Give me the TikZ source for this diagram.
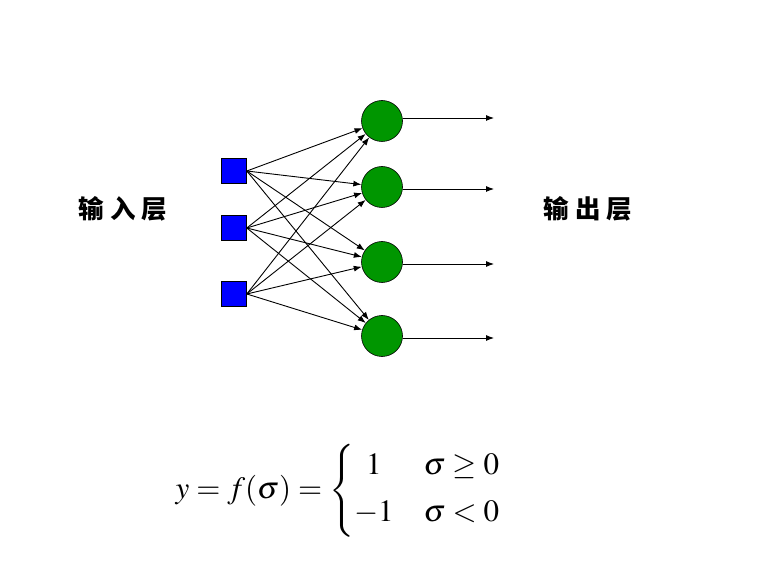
\documentclass[tikz,border=0pt]{standalone}
\usepackage{amsmath}
\usepackage{mathptmx}
\usepackage{fontspec}
\newfontfamily\cjk{Noto Sans CJK SC Black}
\usetikzlibrary{arrows.meta,positioning}
\definecolor{cellgreen}{RGB}{0,150,0}

\begin{document}
\begin{tikzpicture}[
  x=1pt,y=-1pt,
  innode/.style={draw,fill=blue,minimum size=25pt,inner sep=0pt,line width=.6pt},
  outnode/.style={circle,draw,fill=cellgreen,minimum size=41pt,inner sep=0pt,line width=.6pt},
  layer/.style={font=\cjk\fontsize{25.5}{30}\selectfont},
  link/.style={line width=.9pt,-{Latex[length=8pt,width=6pt]}}
]
  \useasboundingbox (0,0) rectangle (766,561);

  % input layer
  \node[innode] (i1) at (234,171) {};
  \node[innode] (i2) at (234,228) {};
  \node[innode] (i3) at (234,294) {};

  % output layer
  \node[outnode] (o1) at (382,121) {};
  \node[outnode] (o2) at (382,187) {};
  \node[outnode] (o3) at (382,262) {};
  \node[outnode] (o4) at (382,336) {};

  \coordinate (e1) at (494,118);
  \coordinate (e2) at (494,189);
  \coordinate (e3) at (494,264);
  \coordinate (e4) at (494,338);

  \node[layer] (inlabel) at (123,209) {输\hspace{6pt}入\hspace{6pt}层};
  \node[layer] (outlabel) at (588,209) {输\hspace{6pt}出\hspace{6pt}层};

  \foreach \i in {1,2,3}
    \foreach \o in {1,2,3,4}
      \draw[link] (i\i.east) -- (o\o);

  \foreach \o in {1,2,3,4}
    \draw[link] (o\o.east |- e\o) -- (e\o);

  % activation
  \node (formula) at (338,491) {\fontsize{31}{37}\selectfont
    $y=f(\sigma)=\left\{\begin{array}{@{}c@{\hspace{30pt}}l@{}}
      1 & \sigma\geq 0\\[10pt]
      -1 & \sigma<0
    \end{array}\right.$};
\end{tikzpicture}
\end{document}
